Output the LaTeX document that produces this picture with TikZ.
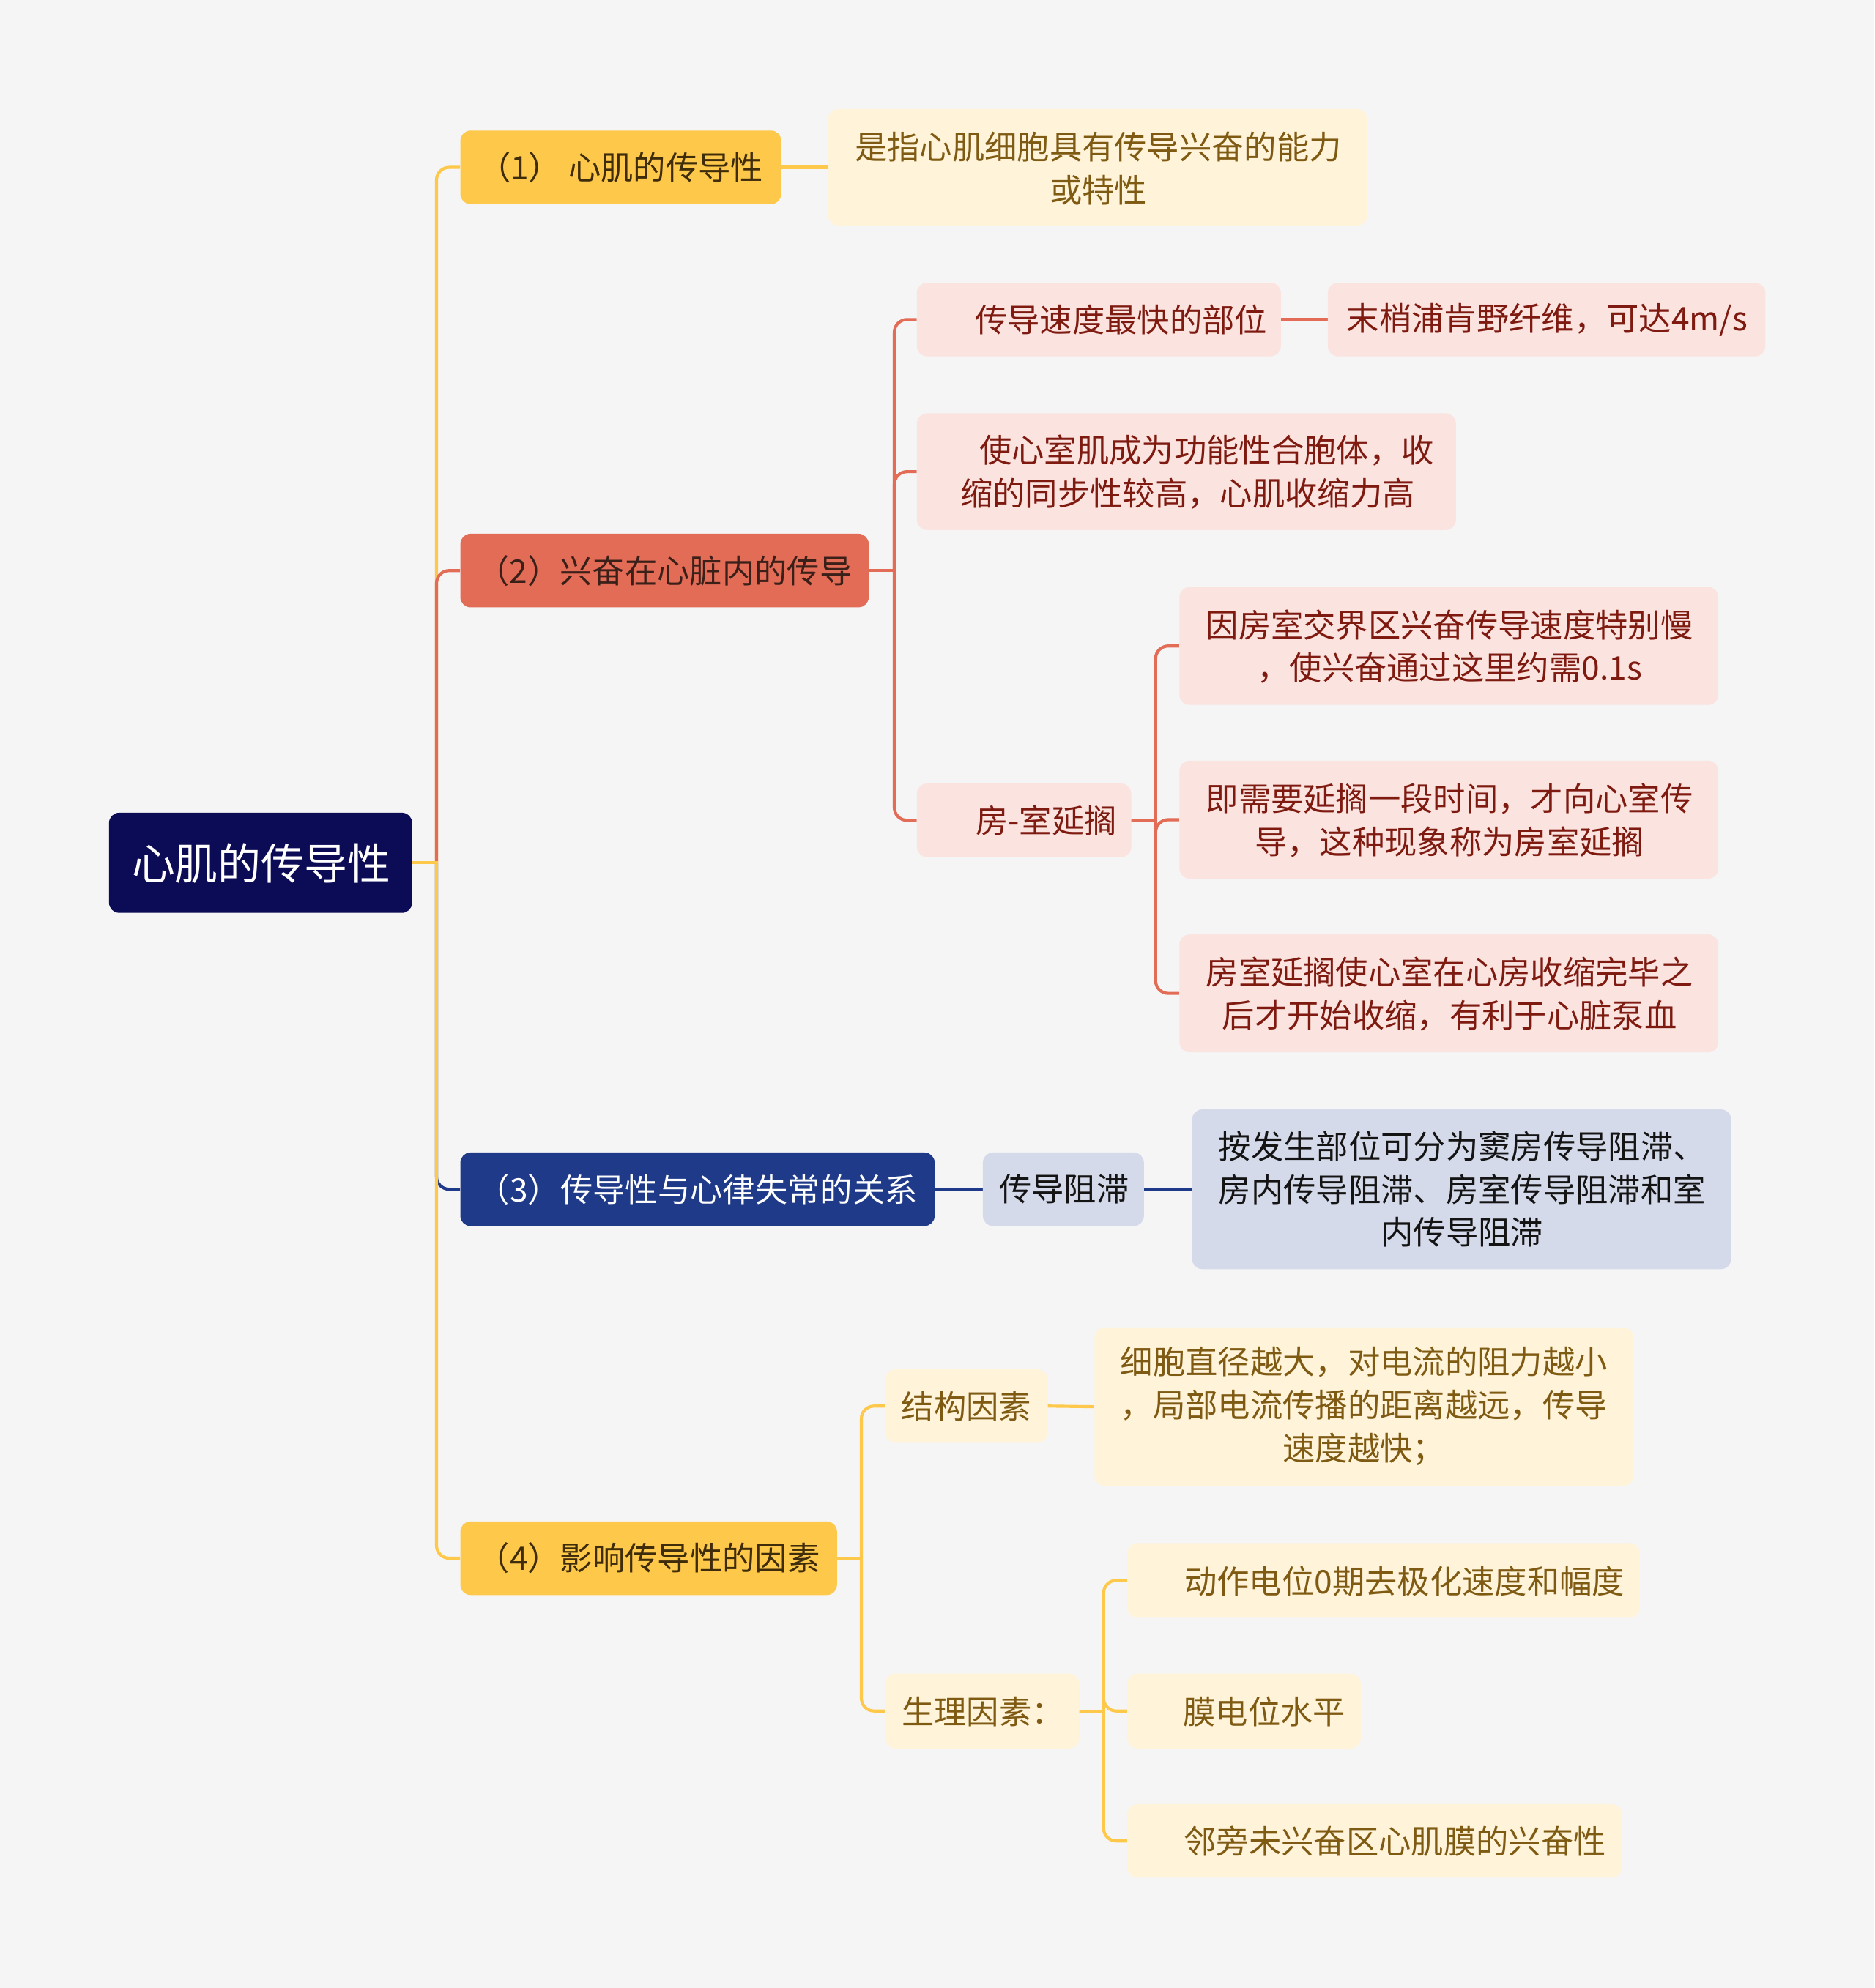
\documentclass[tikz,border=0pt]{standalone}
\usepackage{fontspec}
\setmainfont{Noto Sans CJK SC}
\usetikzlibrary{calc}
\pgfdeclarelayer{bgfill}
\pgfdeclarelayer{lines}
\pgfsetlayers{bgfill,lines,main}
\definecolor{bgc}{HTML}{F5F5F5}
\definecolor{rootc}{HTML}{0C0C56}
\definecolor{yel}{HTML}{FEC84A}
\definecolor{cream}{HTML}{FFF3D9}
\definecolor{creamtxt}{HTML}{7F5A12}
\definecolor{yeltxt}{HTML}{3E2C0A}
\definecolor{coral}{HTML}{E36C57}
\definecolor{coraltxt}{HTML}{3B2019}
\definecolor{pink}{HTML}{FBE3DF}
\definecolor{pinktxt}{HTML}{7E1A10}
\definecolor{navy}{HTML}{1F3A88}
\definecolor{lblue}{HTML}{D5DAEA}
\definecolor{lbluetxt}{HTML}{141414}
\tikzset{
  bx/.style={rectangle, rounded corners=8pt, inner sep=0pt, draw=none},
  txt/.style={inner sep=0pt, font=\fontsize{25.6}{34}\selectfont, align=center},
  conn/.style={line width=2.4pt, rounded corners=10pt},
  stub/.style={line width=2.4pt, line cap=rect},
}
\newcommand\bnode[6]{\node[bx,#6,minimum width={#4pt-#2pt},minimum height={#5pt-#3pt}] (#1) at ({(#2+#4)/2},{(#3+#5)/2}) {};}
\begin{document}
\begin{tikzpicture}[x=1pt,y=-1pt]
\begin{pgfonlayer}{bgfill}
\fill[bgc] (0,0) rectangle (1478,1568);
\end{pgfonlayer}
\useasboundingbox (0,0) rectangle (1478,1568);
% boxes
\bnode{root}{86}{641}{325}{720}{fill=rootc}
\bnode{n1}{363}{103}{616}{161}{fill=yel}
\bnode{c1}{653}{86}{1078}{178}{fill=cream}
\bnode{n2}{363}{421}{685}{479}{fill=coral}
\bnode{s21}{723}{223}{1010}{281}{fill=pink}
\bnode{s211}{1047}{223}{1392}{281}{fill=pink}
\bnode{s22}{723}{326}{1148}{418}{fill=pink}
\bnode{s23}{723}{618}{892}{676}{fill=pink}
\bnode{s231}{930}{463}{1355}{556}{fill=pink}
\bnode{s232}{930}{600}{1355}{693}{fill=pink}
\bnode{s233}{930}{737}{1355}{830}{fill=pink}
\bnode{n3}{363}{909}{737}{967}{fill=navy}
\bnode{s31}{775}{909}{902}{967}{fill=lblue}
\bnode{s311}{940}{875}{1365}{1001}{fill=lblue}
\bnode{n4}{363}{1200}{660}{1258}{fill=yel}
\bnode{s41}{698}{1080}{826}{1138}{fill=cream}
\bnode{s411}{863}{1047}{1288}{1172}{fill=cream}
\bnode{s42}{698}{1320}{851}{1379}{fill=cream}
\bnode{s421}{889}{1217}{1293}{1276}{fill=cream}
\bnode{s422}{889}{1320}{1073}{1379}{fill=cream}
\bnode{s423}{889}{1423}{1279}{1481}{fill=cream}
% texts
\node[txt, font=\fontsize{34}{40}\selectfont, text=white] (troot) at (206,681) {心肌的传导性};
\node[txt, text=yeltxt] (tn1) at (489.5,132) {（1） 心肌的传导性};
\node[txt, text=creamtxt] (tc1) at (866,133) {是指心肌细胞具有传导兴奋的能力\\或特性};
\node[txt, text=coraltxt] (tn2) at (524,450) {（2）兴奋在心脏内的传导};
\node[txt, text=pinktxt] (ts21) at (884,252) {传导速度最快的部位};
\node[txt, text=pinktxt] (ts211) at (1220,252) {末梢浦肯野纤维，可达4m/s};
\node[txt, text=pinktxt, align=left, anchor=west] (ts22) at (757,372) {\hspace*{15pt}使心室肌成为功能性合胞体，收\\缩的同步性较高，心肌收缩力高};
\node[txt, text=pinktxt] (ts23) at (825,647) {房-室延搁};
\node[txt, text=pinktxt] (ts231) at (1143,510) {因房室交界区兴奋传导速度特别慢\\，使兴奋通过这里约需0.1s};
\node[txt, text=pinktxt] (ts232) at (1143,647) {即需要延搁一段时间，才向心室传\\导，这种现象称为房室延搁};
\node[txt, text=pinktxt] (ts233) at (1143,784) {房室延搁使心室在心房收缩完毕之\\后才开始收缩，有利于心脏泵血};
\node[txt, text=white] (tn3) at (550,938) {（3）传导性与心律失常的关系};
\node[txt, text=lbluetxt] (ts31) at (839,938) {传导阻滞};
\node[txt, text=lbluetxt] (ts311) at (1153,938) {按发生部位可分为窦房传导阻滞、\\房内传导阻滞、房室传导阻滞和室\\内传导阻滞};
\node[txt, text=yeltxt] (tn4) at (511.5,1229) {（4）影响传导性的因素};
\node[txt, text=creamtxt] (ts41) at (762,1109) {结构因素};
\node[txt, text=creamtxt] (ts411) at (1075.5,1109) {细胞直径越大，对电流的阻力越小\\，局部电流传播的距离越远，传导\\速度越快；};
\node[txt, text=creamtxt] (ts42) at (775,1350) {生理因素：};
\node[txt, text=creamtxt] (ts421) at (1107.5,1247) {动作电位0期去极化速度和幅度};
\node[txt, text=creamtxt] (ts422) at (997,1350) {膜电位水平};
\node[txt, text=creamtxt] (ts423) at (1100,1452) {邻旁未兴奋区心肌膜的兴奋性};
% junctions
\coordinate (j0) at ($(root.east)+(19,0)$);
\coordinate (j2) at ($(n2.east)+(20,0)$);
\coordinate (j23) at ($(s23.east)+(19,0)$);
\coordinate (j4) at ($(n4.east)+(19,0)$);
\coordinate (j42) at ($(s42.east)+(19,0)$);
% connectors
\begin{pgfonlayer}{lines}
\draw[conn, yel] (j0) |- (n1.west);
\draw[conn, coral] (j0) |- (n2.west);
\draw[conn, navy] (j0) |- (n3.west);
\draw[conn, yel] (j0) |- (n4.west);
\draw[stub, yel] (root.east) -- (j0);
\draw[conn, yel] (n1.east) -- (c1.west);
\draw[conn, coral] (j2) |- (s21.west);
\draw[conn, coral] (j2) |- (s22.west);
\draw[conn, coral] (j2) |- (s23.west);
\draw[stub, coral] (n2.east) -- (j2);
\draw[conn, coral] (s21.east) -- (s211.west);
\draw[conn, coral] (j23) |- (s231.west);
\draw[conn, coral] (j23) |- (s232.west);
\draw[conn, coral] (j23) |- (s233.west);
\draw[stub, coral] (s23.east) -- (j23);
\draw[conn, navy] (n3.east) -- (s31.west);
\draw[conn, navy] (s31.east) -- (s311.west);
\draw[conn, yel] (j4) |- (s41.west);
\draw[conn, yel] (j4) |- (s42.west);
\draw[stub, yel] (n4.east) -- (j4);
\draw[conn, yel] (s41.east) -- (s411.west);
\draw[conn, yel] (j42) |- (s421.west);
\draw[conn, yel] (j42) |- (s422.west);
\draw[conn, yel] (j42) |- (s423.west);
\draw[stub, yel] (s42.east) -- (j42);
\end{pgfonlayer}
\end{tikzpicture}
\end{document}
